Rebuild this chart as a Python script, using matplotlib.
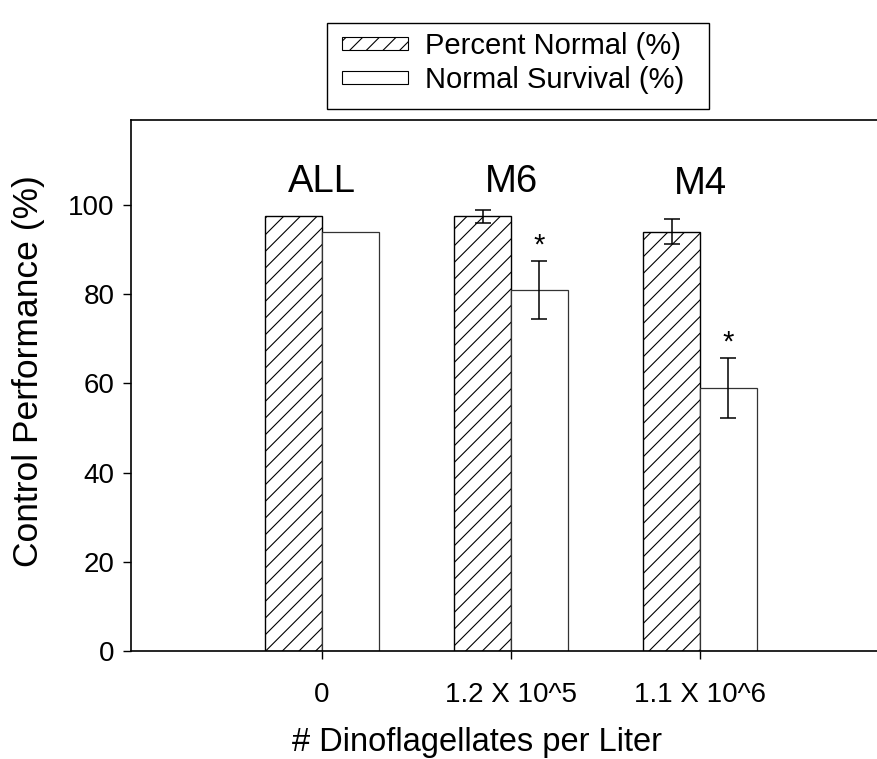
import matplotlib
matplotlib.use("Agg")
import matplotlib.pyplot as plt
from matplotlib.patches import Patch, Rectangle
import numpy as np

plt.rcParams['font.family'] = ['Liberation Sans', 'DejaVu Sans']
plt.rcParams['hatch.linewidth'] = 0.8

# Data
groups = ["ALL", "M6", "M4"]
tick_labels = ["0", "1.2 X 10^5", "1.1 X 10^6"]
percent_normal = [97.4, 97.4, 94.0]
percent_normal_err = [0.0, 1.4, 2.75]
normal_survival = [93.9, 80.9, 59.0]
normal_survival_err = [0.0, 6.55, 6.7]
significant = [False, True, True]

W, H = 878, 759
fig = plt.figure(figsize=(W / 100, H / 100), dpi=100)
left, right, top, bottom = 131, 900, 120, 651
ax = fig.add_axes([left / W, 1 - bottom / H, (right - left) / W, (bottom - top) / H])

x = np.arange(1, len(groups) + 1)
bw = 0.30

ax.bar(x - bw / 2, percent_normal, width=bw, facecolor='white', edgecolor='black',
       hatch='//', linewidth=1.0)
ax.bar(x + bw / 2, normal_survival, width=bw, facecolor='white', edgecolor='#333333',
       linewidth=0.9)

for i in range(len(groups)):
    if percent_normal_err[i] > 0:
        ax.errorbar(x[i] - bw / 2, percent_normal[i], yerr=percent_normal_err[i],
                    fmt='none', ecolor='black', elinewidth=1.1, capsize=5.5, capthick=1.1)
    if normal_survival_err[i] > 0:
        ax.errorbar(x[i] + bw / 2, normal_survival[i], yerr=normal_survival_err[i],
                    fmt='none', ecolor='black', elinewidth=1.1, capsize=5.5, capthick=1.1)
    if significant[i]:
        ax.text(x[i] + bw / 2, normal_survival[i] + normal_survival_err[i] + 3.4, '*',
                ha='center', va='center', fontsize=21)

label_y = [102.9, 102.9, 102.5]
for i, g in enumerate(groups):
    ax.text(x[i], label_y[i], g, ha='center', va='baseline', fontsize=27.5)

ax.set_xlim(-0.0106, 4.058)
ax.set_ylim(0, 119)
ax.set_xticks(x)
ax.set_xticklabels(tick_labels, fontsize=20)
ax.set_yticks([0, 20, 40, 60, 80, 100])
ax.tick_params(axis='both', direction='out', length=6, width=1.0, labelsize=20, pad=6)
ax.tick_params(axis='x', pad=16)

for s in ['left', 'top', 'bottom', 'right']:
    ax.spines[s].set_linewidth(1.2)

ax.set_ylabel("Control Performance (%)", fontsize=25.5)
ax.yaxis.set_label_coords((45 - left) / (right - left), 0.527)
ax.set_xlabel("# Dinoflagellates per Liter", fontsize=23.5)
ax.xaxis.set_label_coords((477 - left) / (right - left), (bottom - 727) / (bottom - top))

# Legend entries without their own frame; a fixed box is drawn around them
handles = [Patch(facecolor='white', edgecolor='black', hatch='//', linewidth=0.8),
           Patch(facecolor='white', edgecolor='black', linewidth=0.8)]
leg = fig.legend(handles, ["Percent Normal (%)", "Normal Survival (%)"],
                 loc='upper left', bbox_to_anchor=(342 / W, 1 - 32 / H),
                 fontsize=21, frameon=False, borderaxespad=0,
                 handlelength=2.25, handleheight=0.3, handletextpad=0.6,
                 borderpad=0, labelspacing=0.22)
box_l, box_r, box_t, box_b = 327, 709, 23, 109
fig.patches.append(Rectangle((box_l / W, 1 - box_b / H), (box_r - box_l) / W,
                             (box_b - box_t) / H, transform=fig.transFigure,
                             facecolor='none', edgecolor='black', linewidth=1.0))

fig.savefig("out.png", dpi=100)
